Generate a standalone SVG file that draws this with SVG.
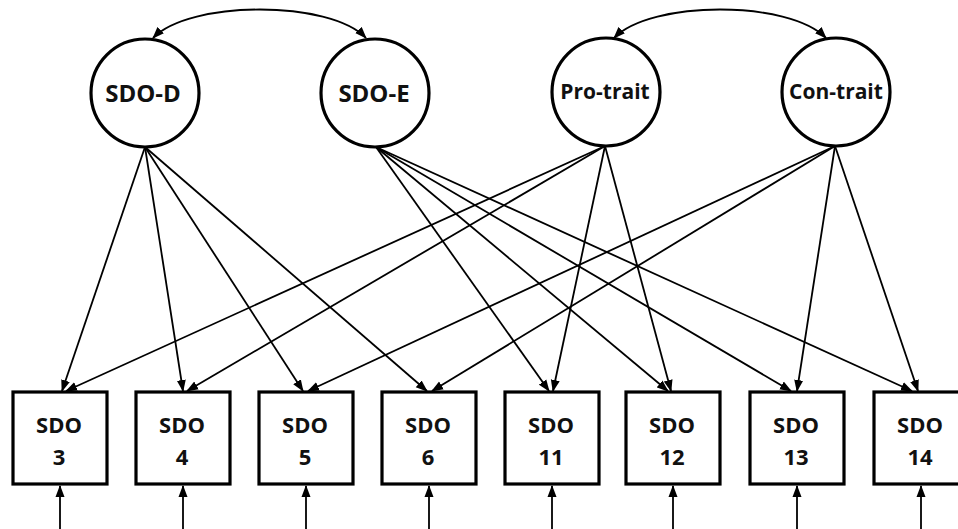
<svg xmlns="http://www.w3.org/2000/svg" width="958" height="529" viewBox="0 0 958 529">
<style>
.lat circle{fill:#fff;stroke:#000;stroke-width:3.2}
.obs rect{fill:#fff;stroke:#000;stroke-width:3.2}
text{font-family:"Open Sans","Liberation Sans",sans-serif;font-weight:bold;fill:#111;text-anchor:middle}
.lt{font-size:24px}
.lt2{font-size:21px}
.ot{font-size:22px}
.c path,.c line{stroke:#000;stroke-width:1.8;fill:none;marker-end:url(#ah)}
.c path.cov{marker-start:url(#ah)}
</style>
<defs>
<marker id="ah" markerUnits="userSpaceOnUse" markerWidth="12" markerHeight="10" refX="11" refY="5" orient="auto-start-reverse">
<path d="M0,0.5 L12,5 L0,9.5 z" fill="#000"/>
</marker>
</defs>
<rect width="958" height="529" fill="#fff"/>
<g class="c" id="connectors">
<path class="cov" d="M153,38 C190,0 330,0 366,38"/>
<path class="cov" d="M614,38 C651,0 789,0 826,38"/>
<line x1="145" y1="147" x2="62" y2="391"/>
<line x1="145" y1="147" x2="183" y2="391"/>
<line x1="145" y1="147" x2="303" y2="391"/>
<line x1="145" y1="147" x2="427" y2="391"/>
<line x1="376" y1="147" x2="549" y2="391"/>
<line x1="376" y1="147" x2="668" y2="391"/>
<line x1="376" y1="147" x2="791" y2="391"/>
<line x1="376" y1="147" x2="912" y2="391"/>
<line x1="605" y1="146" x2="66" y2="391"/>
<line x1="605" y1="146" x2="187" y2="391"/>
<line x1="605" y1="146" x2="553" y2="391"/>
<line x1="605" y1="146" x2="671" y2="391"/>
<line x1="835" y1="146" x2="308" y2="391"/>
<line x1="835" y1="146" x2="432" y2="391"/>
<line x1="835" y1="146" x2="797" y2="391"/>
<line x1="835" y1="146" x2="918" y2="391"/>
<line x1="60" y1="529" x2="60" y2="486"/>
<line x1="183" y1="529" x2="183" y2="486"/>
<line x1="306" y1="529" x2="306" y2="486"/>
<line x1="429" y1="529" x2="429" y2="486"/>
<line x1="552" y1="529" x2="552" y2="486"/>
<line x1="673" y1="529" x2="673" y2="486"/>
<line x1="797" y1="529" x2="797" y2="486"/>
<line x1="921" y1="529" x2="921" y2="486"/>
</g>
<g class="lat" id="sdo-d"><circle cx="145" cy="93" r="54"/><text class="lt" x="143" y="102">SDO-D</text></g>
<g class="lat" id="sdo-e"><circle cx="375" cy="93" r="54"/><text class="lt" x="374" y="102">SDO-E</text></g>
<g class="lat" id="pro-trait"><circle cx="606" cy="92" r="54"/><text class="lt2" x="605" y="99">Pro-trait</text></g>
<g class="lat" id="con-trait"><circle cx="836" cy="92" r="54"/><text class="lt2" x="836" y="99">Con-trait</text></g>
<g class="obs" id="sdo3"><rect x="13" y="392" width="94" height="92"/><text class="ot" x="59" y="433">SDO</text><text class="ot" x="59" y="465">3</text></g>
<g class="obs" id="sdo4"><rect x="136" y="392" width="94" height="92"/><text class="ot" x="182" y="433">SDO</text><text class="ot" x="182" y="465">4</text></g>
<g class="obs" id="sdo5"><rect x="259" y="392" width="94" height="92"/><text class="ot" x="305" y="433">SDO</text><text class="ot" x="305" y="465">5</text></g>
<g class="obs" id="sdo6"><rect x="382" y="392" width="94" height="92"/><text class="ot" x="428" y="433">SDO</text><text class="ot" x="428" y="465">6</text></g>
<g class="obs" id="sdo11"><rect x="505" y="392" width="94" height="92"/><text class="ot" x="551" y="433">SDO</text><text class="ot" x="551" y="465">11</text></g>
<g class="obs" id="sdo12"><rect x="626" y="392" width="94" height="92"/><text class="ot" x="672" y="433">SDO</text><text class="ot" x="672" y="465">12</text></g>
<g class="obs" id="sdo13"><rect x="750" y="392" width="94" height="92"/><text class="ot" x="796" y="433">SDO</text><text class="ot" x="796" y="465">13</text></g>
<g class="obs" id="sdo14"><rect x="874" y="392" width="94" height="92"/><text class="ot" x="920" y="433">SDO</text><text class="ot" x="920" y="465">14</text></g>
</svg>
